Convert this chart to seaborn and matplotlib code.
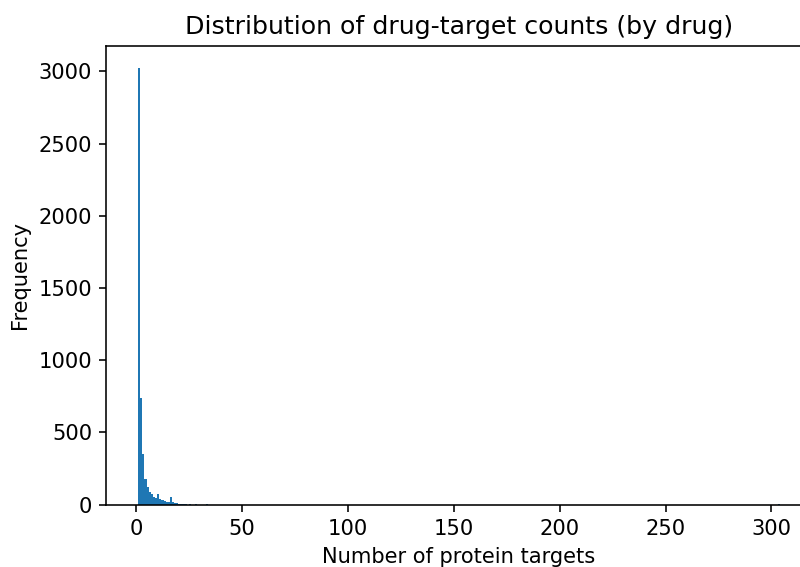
import matplotlib
matplotlib.use("Agg")
import matplotlib.pyplot as plt
import numpy as np
import pandas as pd
import seaborn as sns

# number of targets per drug -> how many drugs have that many targets
n_targets = [1, 2, 3, 4, 5, 6, 7, 8, 9, 10, 11, 12, 13, 14, 15, 16, 17, 18, 19, 20,
             21, 22, 23, 25, 28, 33, 303]
n_drugs = [3025, 740, 350, 175, 124, 89, 72, 50, 48, 70, 36, 30, 25, 20, 18, 50, 15, 10, 8, 6,
           5, 4, 3, 3, 2, 1, 1]

df = pd.DataFrame({"targets": n_targets, "drugs": n_drugs})
bin_edges = list(range(1, max(n_targets) + 2))

plt.rcParams["font.size"] = 10.5
fig = plt.figure(figsize=(800 / 144, 567 / 144), dpi=144)
ax = fig.add_axes([0.1325, 0.1102, 0.8825, 0.8086])

sns.histplot(data=df, x="targets", weights="drugs", bins=bin_edges, color="#1f77b4",
             alpha=1, linewidth=0, ax=ax)

ax.set_title("Distribution of drug-target counts (by drug)", fontsize=12.6)
ax.set_xlabel("Number of protein targets", fontsize=10.5)
ax.set_ylabel("Frequency", fontsize=10.5)
ax.tick_params(labelsize=10.5)
# right edge of the axes lies past the figure edge in the reference
ax.spines["right"].set_visible(False)

fig.savefig("out.png", dpi=144)
